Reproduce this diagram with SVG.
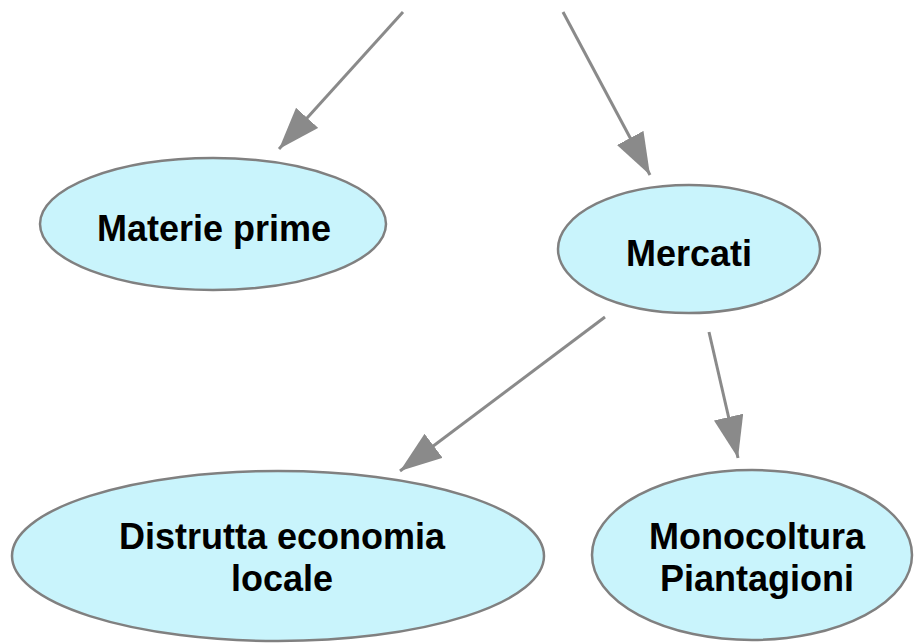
<svg xmlns="http://www.w3.org/2000/svg" width="917" height="643" viewBox="0 0 917 643">
<defs>
<style>
.node ellipse{fill:#c9f4fc;stroke:#808080;stroke-width:2.5}
.node text{font-family:"Liberation Sans",Arial,sans-serif;font-weight:bold;font-size:36px;fill:#000;text-anchor:middle}
.edge{stroke:#8a8a8a;stroke-width:3;fill:none;marker-end:url(#arrow)}
</style>
<marker id="arrow" markerUnits="userSpaceOnUse" markerWidth="44" markerHeight="32" refX="42" refY="15" orient="auto" viewBox="0 0 44 32">
<path d="M0,0 L42,15 L0,30 z" fill="#8a8a8a"/>
</marker>
</defs>
<rect width="917" height="643" fill="#fff"/>
<g id="connectors">
<line class="edge" x1="403" y1="12" x2="279" y2="149"/>
<line class="edge" x1="563" y1="12" x2="650" y2="175"/>
<line class="edge" x1="605" y1="317" x2="400" y2="471"/>
<line class="edge" x1="709" y1="332" x2="738" y2="458"/>
</g>
<g id="materie-prime" class="node">
<ellipse cx="213" cy="224" rx="173" ry="66"/>
<text x="214" y="241">Materie prime</text>
</g>
<g id="mercati" class="node">
<ellipse cx="689" cy="249" rx="131" ry="64"/>
<text x="689" y="266">Mercati</text>
</g>
<g id="distrutta-economia-locale" class="node">
<ellipse cx="278" cy="556" rx="266" ry="85"/>
<text x="282" y="549">Distrutta economia</text>
<text x="282" y="591">locale</text>
</g>
<g id="monocoltura-piantagioni" class="node">
<ellipse cx="752" cy="555" rx="160" ry="85"/>
<text x="757" y="549">Monocoltura</text>
<text x="757" y="591">Piantagioni</text>
</g>
</svg>
